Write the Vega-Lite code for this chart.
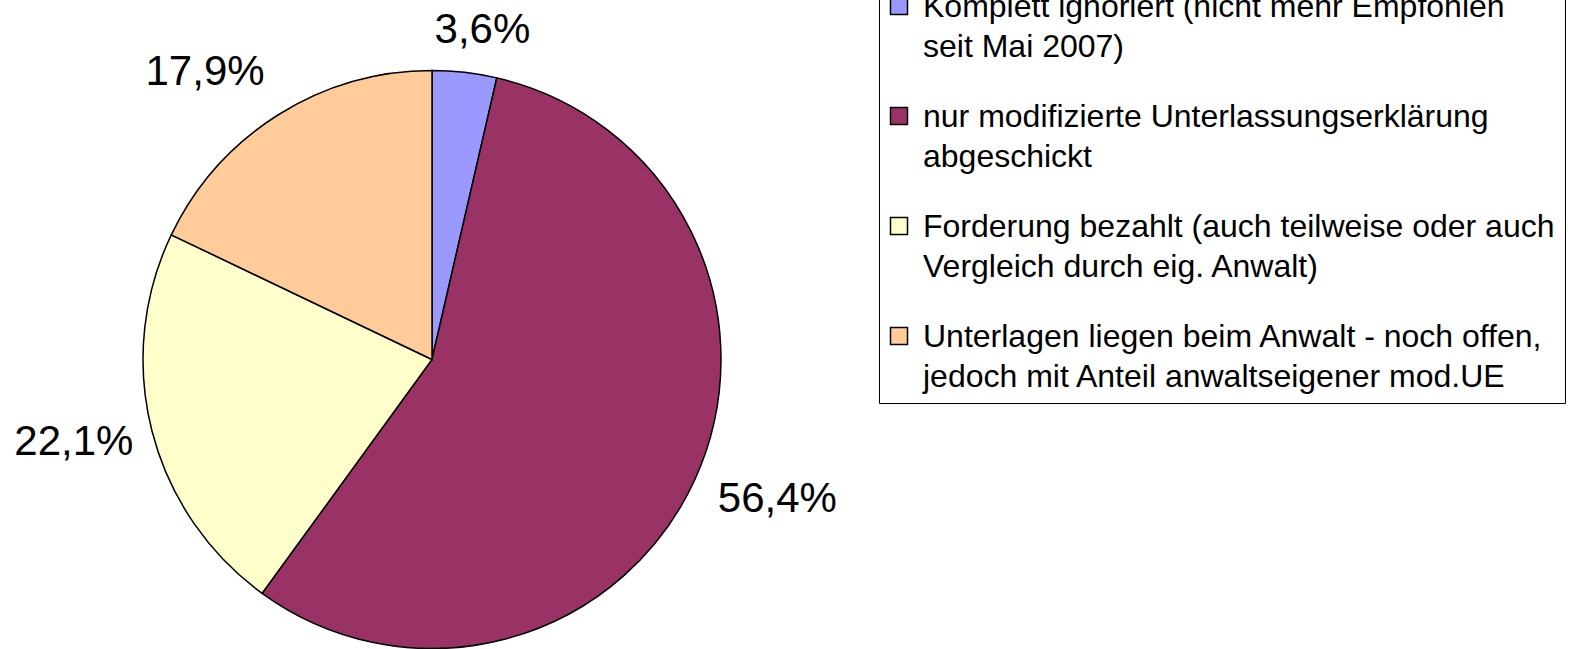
{
  "$schema": "https://vega.github.io/schema/vega-lite/v6.json",
  "width": 864,
  "height": 579,
  "autosize": "none",
  "padding": {"left": 0, "top": 70, "right": 706, "bottom": 0},
  "background": "white",
  "config": {"view": {"stroke": null}, "font": "Liberation Sans"},
  "data": {
    "values": [
      {"cat": "Komplett ignoriert (nicht mehr Empfohlen\nseit Mai 2007)", "v": 3.6, "o": 1, "label": "3,6%"},
      {"cat": "nur modifizierte Unterlassungserklärung\nabgeschickt", "v": 56.4, "o": 2, "label": "56,4%"},
      {"cat": "Forderung bezahlt (auch teilweise oder auch\nVergleich durch eig. Anwalt)", "v": 22.1, "o": 3, "label": "22,1%"},
      {"cat": "Unterlagen liegen beim Anwalt - noch offen,\njedoch mit Anteil anwaltseigener mod.UE", "v": 17.9, "o": 4, "label": "17,9%"}
    ]
  },
  "layer": [
    {
      "mark": {"type": "arc", "stroke": "#000000", "strokeWidth": 1.5, "radius": 289},
      "encoding": {
        "theta": {"field": "v", "type": "quantitative", "stack": true},
        "order": {"field": "o", "type": "quantitative"},
        "color": {
          "field": "cat",
          "type": "nominal",
          "sort": {"field": "o"},
          "scale": {
            "domain": [
              "Komplett ignoriert (nicht mehr Empfohlen\nseit Mai 2007)",
              "nur modifizierte Unterlassungserklärung\nabgeschickt",
              "Forderung bezahlt (auch teilweise oder auch\nVergleich durch eig. Anwalt)",
              "Unterlagen liegen beim Anwalt - noch offen,\njedoch mit Anteil anwaltseigener mod.UE"
            ],
            "range": ["#9999FF", "#993366", "#FFFFCC", "#FFCC99"]
          },
          "legend": {
            "title": null,
            "orient": "none",
            "legendX": 879,
            "legendY": -90,
            "labelExpr": "split(datum.label, '\\n')",
            "labelFont": "Liberation Sans",
            "labelFontSize": 32,
            "labelColor": "#000000",
            "labelLimit": 0,
            "labelBaseline": "top",
            "labelOffset": 8,
            "symbolType": "square",
            "symbolSize": 289,
            "symbolOffset": -6,
            "symbolStrokeColor": "#000000",
            "symbolStrokeWidth": 1.5,
            "symbolOpacity": 1,
            "rowPadding": 37,
            "padding": 10,
            "fillColor": "#FFFFFF",
            "strokeColor": "#000000",
            "encode": {"labels": {"update": {"lineHeight": {"value": 40}, "dy": {"value": -14}}}}
          }
        }
      }
    },
    {
      "mark": {"type": "text", "radius": 314, "fontSize": 42, "align": "center", "baseline": "bottom", "dx": 15, "dy": 4, "color": "#000000"},
      "encoding": {
        "theta": {"field": "v", "type": "quantitative", "stack": true},
        "order": {"field": "o", "type": "quantitative"},
        "text": {"condition": {"test": "datum.o == 1", "field": "label"}, "value": ""}
      }
    },
    {
      "mark": {"type": "text", "radius": 314, "fontSize": 42, "align": "left", "baseline": "middle", "dy": 9, "color": "#000000"},
      "encoding": {
        "theta": {"field": "v", "type": "quantitative", "stack": true},
        "order": {"field": "o", "type": "quantitative"},
        "text": {"condition": {"test": "datum.o == 2", "field": "label"}, "value": ""}
      }
    },
    {
      "mark": {"type": "text", "radius": 308, "fontSize": 42, "align": "right", "baseline": "middle", "dy": 7, "color": "#000000"},
      "encoding": {
        "theta": {"field": "v", "type": "quantitative", "stack": true},
        "order": {"field": "o", "type": "quantitative"},
        "text": {"condition": {"test": "datum.o == 3", "field": "label"}, "value": ""}
      }
    },
    {
      "mark": {"type": "text", "radius": 314, "fontSize": 42, "align": "right", "baseline": "bottom", "color": "#000000"},
      "encoding": {
        "theta": {"field": "v", "type": "quantitative", "stack": true},
        "order": {"field": "o", "type": "quantitative"},
        "text": {"condition": {"test": "datum.o == 4", "field": "label"}, "value": ""}
      }
    }
  ]
}
